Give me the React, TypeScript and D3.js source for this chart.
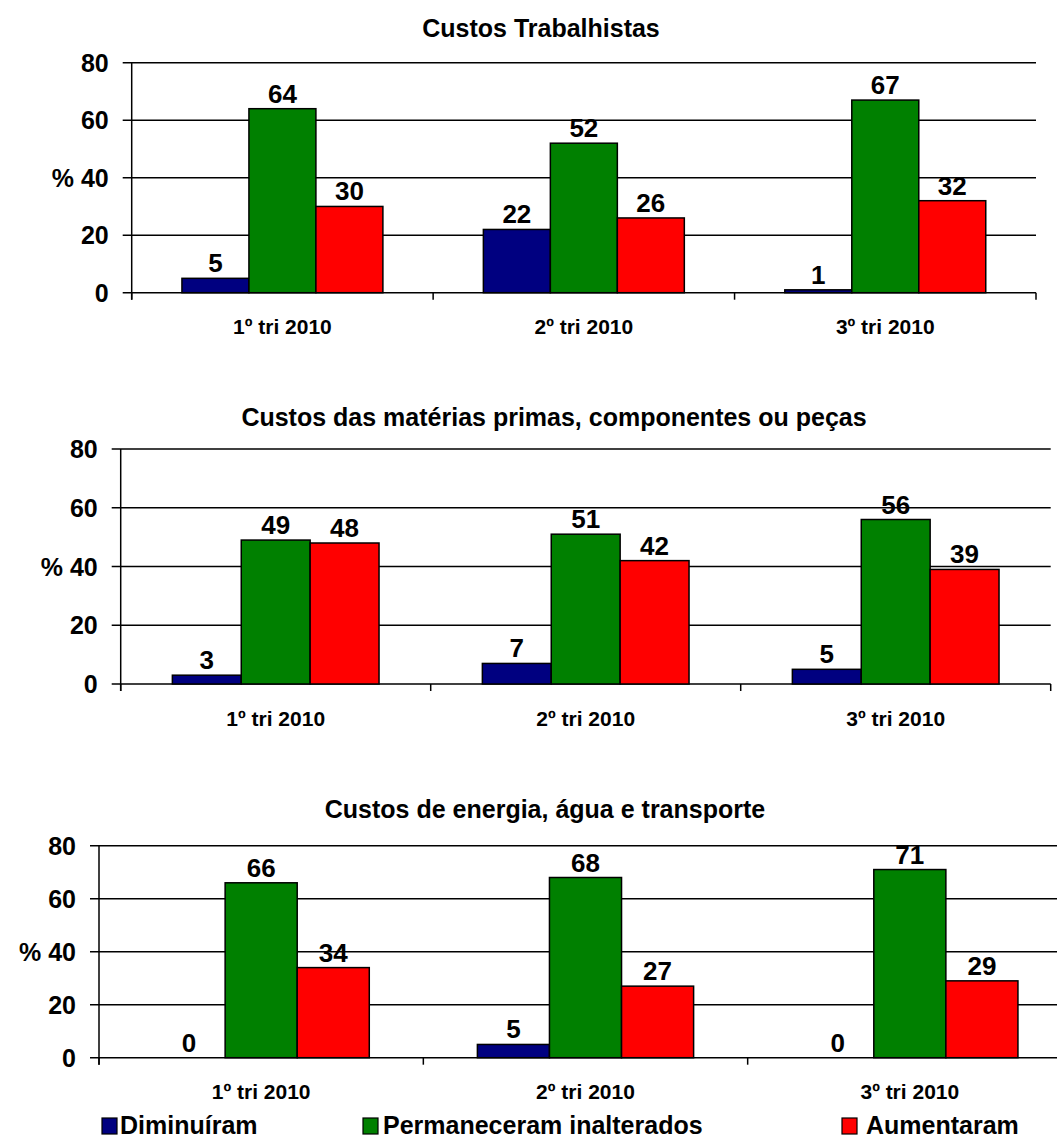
import React from "react";
import * as d3 from "d3";

const categories = ["1º tri 2010", "2º tri 2010", "3º tri 2010"];
const seriesNames = ["Diminuíram", "Permaneceram inalterados", "Aumentaram"];
const seriesColors = ["#000080", "#008000", "#FF0000"];
const yTicks = [0, 20, 40, 60, 80];

const panelTitles = [
  "Custos Trabalhistas",
  "Custos das matérias primas, componentes ou peças",
  "Custos de energia, água e transporte",
];

// values per panel, per series
const trabDiminuiram = [5, 22, 1];
const trabPermaneceram = [64, 52, 67];
const trabAumentaram = [30, 26, 32];

const matDiminuiram = [3, 7, 5];
const matPermaneceram = [49, 51, 56];
const matAumentaram = [48, 42, 39];

const enerDiminuiram = [0, 5, 0];
const enerPermaneceram = [66, 68, 71];
const enerAumentaram = [34, 27, 29];

const panelData = [
  [trabDiminuiram, trabPermaneceram, trabAumentaram],
  [matDiminuiram, matPermaneceram, matAumentaram],
  [enerDiminuiram, enerPermaneceram, enerAumentaram],
];

// layout (pixel geometry of each panel)
const layouts = [
  { x0: 131.7, x1: 1036, top: 62.7, zero: 292.7, titleX: 541, titleY: 36.5, catY: 334 },
  { x0: 120.7, x1: 1050.7, top: 449, zero: 684, titleX: 554, titleY: 426, catY: 726 },
  { x0: 99, x1: 1072, top: 845.7, zero: 1057.7, titleX: 545, titleY: 818, catY: 1099 },
];

const FONT = "'Liberation Sans', Arial, Helvetica, sans-serif";

function Panel({ idx }: { idx: number }) {
  const L = layouts[idx];
  const data = panelData[idx];
  const x0 = d3.scaleBand<string>().domain(categories).range([L.x0, L.x1]).padding(0);
  const bw = x0.bandwidth();
  const x1 = d3
    .scaleBand<string>()
    .domain(seriesNames)
    .range([bw / 6, (bw * 5) / 6])
    .padding(0);
  const y = d3.scaleLinear().domain([0, 80]).range([L.zero, L.top]);

  const boundaries = d3.range(categories.length + 1).map((i) =>
    i < categories.length ? (x0(categories[i]) as number) : L.x1
  );

  return (
    <g>
      <text
        x={L.titleX}
        y={L.titleY}
        textAnchor="middle"
        fontFamily={FONT}
        fontWeight="bold"
        fontSize={25}
        fill="#000"
      >
        {panelTitles[idx]}
      </text>
      {yTicks.map((t) => (
        <g key={t}>
          <line x1={L.x0 - 9} x2={L.x1} y1={y(t)} y2={y(t)} stroke="#000" strokeWidth={1.5} />
          <text
            x={L.x0 - 23}
            y={y(t) + 9}
            textAnchor="end"
            fontFamily={FONT}
            fontWeight="bold"
            fontSize={25}
            fill="#000"
          >
            {t === 40 ? "% 40" : String(t)}
          </text>
        </g>
      ))}
      <line x1={L.x0} x2={L.x0} y1={L.top} y2={L.zero + 7} stroke="#000" strokeWidth={1.5} />
      {boundaries.map((bx, i) => (
        <line key={i} x1={bx} x2={bx} y1={L.zero} y2={L.zero + 7} stroke="#000" strokeWidth={1.5} />
      ))}
      {categories.map((c, ci) => (
        <g key={c} transform={`translate(${x0(c)},0)`}>
          {seriesNames.map((s, si) => {
            const v = data[si][ci];
            const bx = x1(s) as number;
            const w = x1.bandwidth();
            return (
              <g key={s}>
                {v > 0 && (
                  <rect
                    x={bx}
                    y={y(v)}
                    width={w}
                    height={L.zero - y(v)}
                    fill={seriesColors[si]}
                    stroke="#000"
                    strokeWidth={1.5}
                  />
                )}
                <text
                  x={bx + w / 2}
                  y={y(v) - 6}
                  textAnchor="middle"
                  fontFamily={FONT}
                  fontWeight="bold"
                  fontSize={26}
                  fill="#000"
                >
                  {v}
                </text>
              </g>
            );
          })}
          <text
            x={bw / 2}
            y={L.catY}
            textAnchor="middle"
            fontFamily={FONT}
            fontWeight="bold"
            fontSize={21}
            fill="#000"
          >
            {c}
          </text>
        </g>
      ))}
    </g>
  );
}

const legendBoxX = [102, 363, 842];
const legendTextX = [120, 383, 866];

export default function App() {
  return (
    <svg
      width={1057}
      height={1140}
      style={{ position: "absolute", left: 0, top: 0, background: "#fff" }}
    >
      <rect width={1057} height={1140} fill="#fff" />
      {panelTitles.map((_, i) => (
        <Panel key={i} idx={i} />
      ))}
      {seriesNames.map((s, i) => (
        <g key={s}>
          <rect
            x={legendBoxX[i]}
            y={1118}
            width={15}
            height={16}
            fill={seriesColors[i]}
            stroke="#000"
            strokeWidth={1.2}
          />
          <text
            x={legendTextX[i]}
            y={1134}
            fontFamily={FONT}
            fontWeight="bold"
            fontSize={25}
            fill="#000"
          >
            {s}
          </text>
        </g>
      ))}
    </svg>
  );
}
